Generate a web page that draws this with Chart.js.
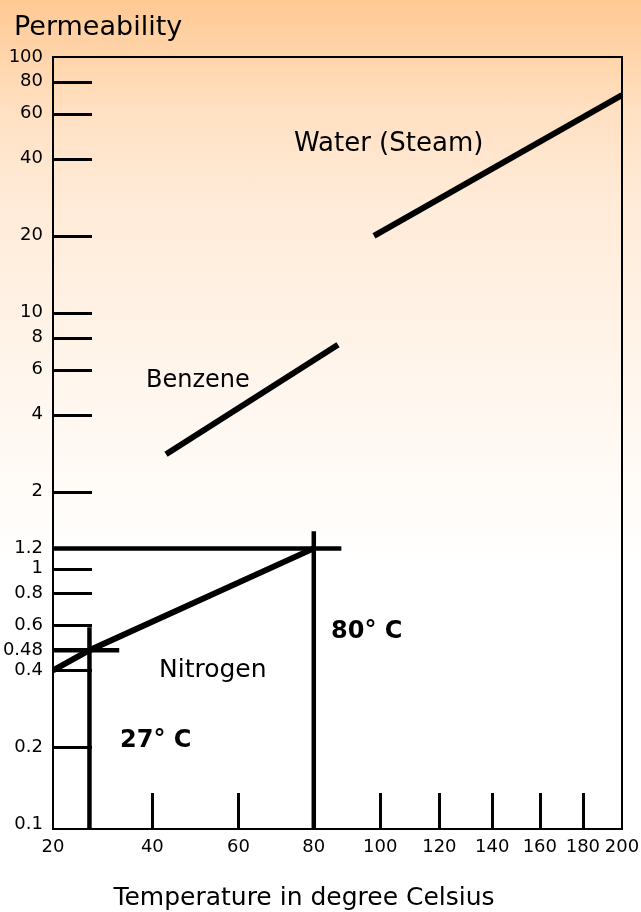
<!DOCTYPE html>
<html>
<head>
<meta charset="utf-8">
<title>Permeability vs temperature</title>
<script src="https://cdn.jsdelivr.net/npm/chart.js@4.4.1/dist/chart.umd.min.js"></script>
<style>
  html, body { margin: 0; padding: 0; }
  body {
    width: 641px; height: 912px; overflow: hidden;
    background: linear-gradient(to bottom, #ffc993 0%, #ffe0c2 12%, #ffebd8 22%, #fff7ef 44%, #ffffff 62%);
  }
  canvas { display: block; }
</style>
</head>
<body>
<canvas id="chart" width="641" height="912"></canvas>
<script>
// temperatures (deg C) and permeabilities for each gas
const waterTemps = [98, 200];
const waterPerm = [20, 71];
const benzeneTemps = [43, 87];
const benzenePerm = [2.8, 7.5];
const nitrogenTemps = [20, 27, 80];
const nitrogenPerm = [0.4, 0.48, 1.2];

// read-off guides for nitrogen at 27 C and 80 C
const guide27Temps = [27, 27];
const guide27Perm = [0.09, 0.59];
const guide048Temps = [20, 33];
const guide048Perm = [0.48, 0.48];
const guide80Temps = [80, 80];
const guide80Perm = [0.09, 1.4];
const guide12Temps = [20, 88];
const guide12Perm = [1.2, 1.2];

const xTicks = [20, 40, 60, 80, 100, 120, 140, 160, 180, 200];
const yTicks = [100, 80, 60, 40, 20, 10, 8, 6, 4, 2, 1.2, 1, 0.8, 0.6, 0.48, 0.4, 0.2, 0.1];

// x axis spaced as 1/(T + offset)
const TEMP_OFFSET = 240;
const recip = t => -1 / (t + TEMP_OFFSET);

class ReciprocalScale extends Chart.Scale {
  determineDataLimits() {
    const { min, max } = this.getMinMax(false);
    this.min = this.options.min ?? min;
    this.max = this.options.max ?? max;
  }
  buildTicks() {
    return xTicks.map(v => ({ value: v }));
  }
  getLabelForValue(v) {
    return String(v);
  }
  configure() {
    super.configure();
    this._lo = recip(this.min);
    this._hi = recip(this.max);
  }
  getPixelForValue(v) {
    return this.getPixelForDecimal((recip(v) - this._lo) / (this._hi - this._lo));
  }
  getValueForPixel(p) {
    const r = this._lo + this.getDecimalForPixel(p) * (this._hi - this._lo);
    return -1 / r - TEMP_OFFSET;
  }
}
ReciprocalScale.id = 'reciprocal';
ReciprocalScale.defaults = {};
Chart.register(ReciprocalScale);

const pts = (xs, ys) => xs.map((x, i) => ({ x: x, y: ys[i] }));

function series(label, xs, ys, width) {
  return {
    label: label,
    data: pts(xs, ys),
    borderColor: '#000',
    borderWidth: width,
    borderCapStyle: 'butt',
    pointRadius: 0,
    fill: false,
    tension: 0
  };
}

const FONT = '"DejaVu Sans", Verdana, sans-serif';

// short tick marks drawn inward from the axes (not at the corners)
const innerTicks = {
  id: 'innerTicks',
  afterDatasetsDraw(chart) {
    const { ctx, chartArea, scales } = chart;
    ctx.save();
    ctx.strokeStyle = '#000';
    ctx.lineWidth = 3;
    ctx.beginPath();
    scales.y.ticks.slice(1, -1).forEach(t => {
      const y = Math.round(scales.y.getPixelForValue(t.value)) + 0.5;
      ctx.moveTo(chartArea.left, y);
      ctx.lineTo(chartArea.left + 39, y);
    });
    scales.x.ticks.slice(1, -1).forEach(t => {
      const x = Math.round(scales.x.getPixelForValue(t.value)) + 0.5;
      ctx.moveTo(x, chartArea.bottom);
      ctx.lineTo(x, chartArea.bottom - 36);
    });
    ctx.stroke();

    // frame
    ctx.lineWidth = 2;
    ctx.strokeRect(chartArea.left, chartArea.top, chartArea.right - chartArea.left, chartArea.bottom - chartArea.top);
    ctx.restore();
  }
};

// titles and curve labels
const labels = {
  id: 'labels',
  afterDraw(chart) {
    const ctx = chart.ctx;
    ctx.save();
    ctx.fillStyle = '#000';
    ctx.textBaseline = 'alphabetic';
    ctx.textAlign = 'left';
    ctx.font = '27px ' + FONT;
    ctx.fillText('Permeability', 14, 35);
    ctx.font = '26px ' + FONT;
    ctx.fillText('Water (Steam)', 294, 151);
    ctx.font = '24px ' + FONT;
    ctx.fillText('Benzene', 146, 387);
    ctx.font = '25px ' + FONT;
    ctx.fillText('Nitrogen', 159, 677);
    ctx.font = 'bold 24px ' + FONT;
    ctx.fillText('80° C', 331, 638);
    ctx.fillText('27° C', 120, 747);
    ctx.font = '25px ' + FONT;
    ctx.textAlign = 'center';
    ctx.fillText('Temperature in degree Celsius', 304, 905);
    ctx.restore();
  }
};

new Chart(document.getElementById('chart'), {
  type: 'line',
  data: {
    datasets: [
      series('Water (Steam)', waterTemps, waterPerm, 6),
      series('Benzene', benzeneTemps, benzenePerm, 6),
      series('Nitrogen', nitrogenTemps, nitrogenPerm, 6),
      series('27 C', guide27Temps, guide27Perm, 4.5),
      series('0.48', guide048Temps, guide048Perm, 4.5),
      series('80 C', guide80Temps, guide80Perm, 4.5),
      series('1.2', guide12Temps, guide12Perm, 4.5)
    ]
  },
  options: {
    responsive: false,
    animation: false,
    layout: { padding: { top: 57, right: 19, left: 0, bottom: 0 } },
    plugins: { legend: { display: false }, tooltip: { enabled: false } },
    scales: {
      x: {
        type: 'reciprocal',
        min: 20,
        max: 200,
        grid: { display: false, drawTicks: false },
        border: { display: false },
        ticks: {
          autoSkip: false,
          maxRotation: 0,
          padding: 8,
          color: '#000',
          font: { family: FONT, size: 18 }
        },
        afterFit(scale) {
          scale.height = 83;
          scale.paddingLeft = 0;
          scale.paddingRight = 0;
        }
      },
      y: {
        type: 'logarithmic',
        min: 0.096,
        max: 100,
        grid: { display: false, drawTicks: false },
        border: { display: false },
        afterBuildTicks(scale) {
          scale.ticks = yTicks.map(v => ({ value: v }));
        },
        ticks: {
          autoSkip: false,
          padding: 10,
          color: '#000',
          font: { family: FONT, size: 18 },
          callback: v => String(v)
        },
        afterFit(scale) {
          scale.width = 53;
          scale.paddingTop = 0;
          scale.paddingBottom = 0;
        }
      }
    }
  },
  plugins: [innerTicks, labels]
});
</script>
</body>
</html>
